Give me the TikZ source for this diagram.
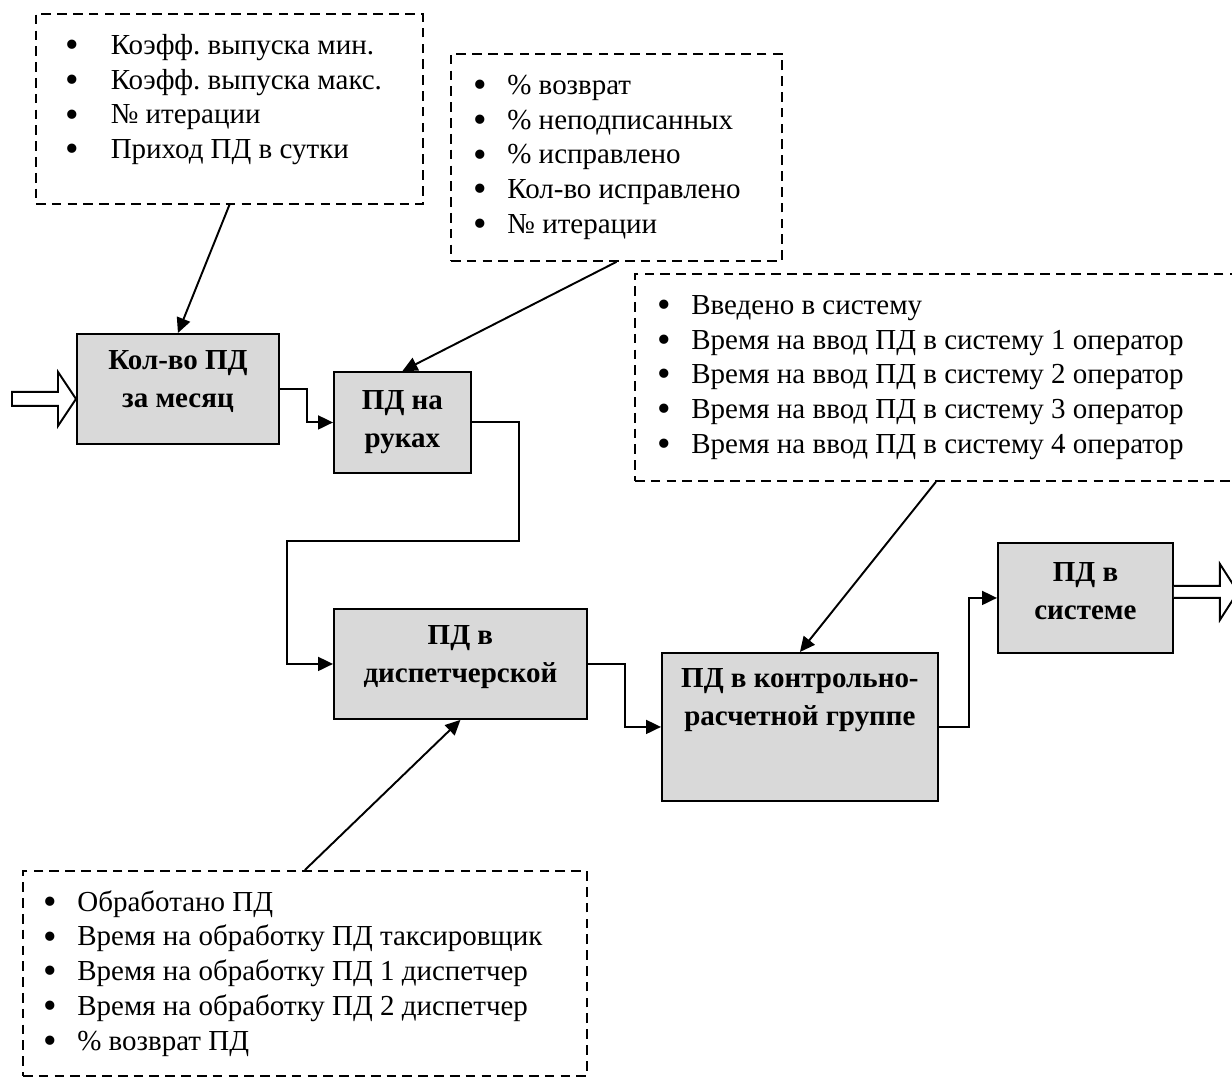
\documentclass[tikz,border=0pt]{standalone}
\usepackage{fontspec}
\setmainfont{Liberation Serif}
\usetikzlibrary{positioning,arrows.meta}
\definecolor{blkgray}{HTML}{D9D9D9}
\newcommand{\notefont}{\fontsize{16.5}{19.8}\selectfont}
\newcommand{\itm}[2][19pt]{\makebox[#1][l]{\raisebox{-1.8pt}{\fontsize{22}{0}\selectfont\textbullet}}\mbox{\spaceskip=0pt\relax #2}}
\newcommand{\dn}[1]{\rule[-#1]{0pt}{#1}}

\begin{document}
\frenchspacing
\begin{tikzpicture}[
    x=0.02cm, y=-0.02cm,
    line width=1.1pt,
    block/.style={%
      draw,
      fill=blkgray,
      anchor=north west,
      align=center,
      inner sep=0pt,
      font=\fontsize{16.5}{21.5}\selectfont\bfseries,
    },
    note/.style={%
      draw,
      dash pattern=on 5.5pt off 3.5pt,
      anchor=north west,
      align=left,
      inner ysep=0pt,
      font=\notefont,
    },
    link/.style={-{Triangle[length=0.3cm,width=0.28cm]}},
    fat/.style={draw, fill=white, line join=miter},
  ]
    \useasboundingbox (0,0) rectangle (1232,1077);

    \node [block, minimum width=4.04cm, minimum height=2.2cm] (A) at (76,333) {Кол-во ПД\\за месяц\dn{0.4cm}};
    \node [block, minimum width=2.74cm, minimum height=2.02cm] (B) at (333,371) {ПД на\\руках};
    \node [block, minimum width=5.06cm, minimum height=2.2cm] (C) at (333,608) {ПД в\\диспетчерской\dn{0.4cm}};
    \node [block, minimum width=5.52cm, minimum height=2.96cm] (D) at (661,652) {ПД в контрольно-\\расчетной группе\dn{1.2cm}};
    \node [block, minimum width=3.5cm, minimum height=2.2cm] (E) at (997,542) {ПД в\\системе\dn{0.28cm}};

    \node [note, inner xsep=0.6cm, text width=6.54cm, minimum height=3.8cm] (N1) at (35,13) {%
      \itm[25.5pt]{Коэфф. выпуска мин.}\\
      \itm[25.5pt]{Коэфф. выпуска макс.}\\
      \itm[25.5pt]{№ итерации}\\
      \itm[25.5pt]{Приход ПД в сутки}\dn{0.5cm}};
    \node [note, inner xsep=0.46cm, text width=5.7cm, minimum height=4.14cm] (N2) at (450,53) {%
      \itm{\% возврат}\\
      \itm{\% неподписанных}\\
      \itm{\% исправлено}\\
      \itm{Кол-во исправлено}\\
      \itm{№ итерации}};
    \node [note, inner xsep=0.46cm, text width=11.12cm, minimum height=4.14cm] (N3) at (634,273) {%
      \itm{Введено в систему}\\
      \itm{Время на ввод ПД в систему 1 оператор}\\
      \itm{Время на ввод ПД в систему 2 оператор}\\
      \itm{Время на ввод ПД в систему 3 оператор}\\
      \itm{Время на ввод ПД в систему 4 оператор}};
    \node [note, inner xsep=0.42cm, text width=10.44cm, minimum height=4.1cm] (N4) at (22,870) {%
      \itm{Обработано ПД}\\
      \itm{Время на обработку ПД таксировщик}\\
      \itm{Время на обработку ПД 1 диспетчер}\\
      \itm{Время на обработку ПД 2 диспетчер}\\
      \itm{\% возврат ПД}};

    \draw [link] (N1.south) -- (A.north);
    \draw [link] (N2.south) -- (B.north);
    \draw [link] (N3.south) -- (D.north);
    \draw [link] (N4.north) -- (C.south);

    \draw [link] (A.east) -- ++(27,0) |- (B.west);
    \draw [link] (B.east) -- ++(47,0) |- (287,541) |- (C.west);
    \draw [link] (C.east) -- ++(37,0) |- (D.west);
    \draw [link] (D.east) -- ++(30,0) |- (E.west);

    \draw [fat] ([yshift=-0.2cm]A.west) -- ++(-18,-27) -- ++(0,20) -- ++(-46,0) -- ++(0,14) -- ++(46,0) -- ++(0,20) -- cycle;
    \draw [fat] ([yshift=0.24cm]E.east) -- ++(46,0) -- ++(0,-22) -- ++(18,28) -- ++(-18,28) -- ++(0,-22) -- ++(-46,0);
\end{tikzpicture}
\end{document}
